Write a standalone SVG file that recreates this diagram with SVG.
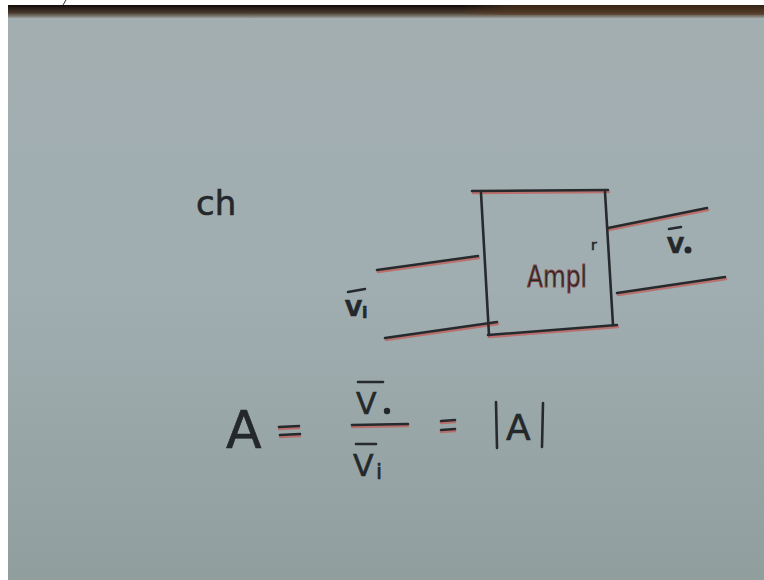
<svg xmlns="http://www.w3.org/2000/svg" width="764" height="580" viewBox="0 0 764 580">
<defs>
<linearGradient id="bg" x1="0" y1="0" x2="0" y2="1">
<stop offset="0" stop-color="#a3aeb0"/>
<stop offset="0.5" stop-color="#a0aeb1"/>
<stop offset="1" stop-color="#919e9e"/>
</linearGradient>
<linearGradient id="band" x1="0" y1="0" x2="0" y2="1">
<stop offset="0" stop-color="#100c0a"/>
<stop offset="0.6" stop-color="#4a3a2c"/>
<stop offset="1" stop-color="#979c96"/>
</linearGradient>
<linearGradient id="bandx" x1="0" y1="0" x2="1" y2="0">
<stop offset="0" stop-color="#000" stop-opacity="0.0"/>
<stop offset="0.6" stop-color="#5a3a20" stop-opacity="0.0"/>
<stop offset="0.66" stop-color="#5a3a20" stop-opacity="0.5"/>
<stop offset="1" stop-color="#5a3a20" stop-opacity="0.5"/>
</linearGradient>
</defs>
<style>
.ink{fill:none;stroke:#262a2c;stroke-width:2.6;stroke-linecap:round}
.red{fill:none;stroke:#c0605c;stroke-width:2.6;stroke-linecap:round;opacity:0.8}
.hw{font-family:"DejaVu Sans","Liberation Sans",sans-serif;fill:#24282a;stroke:#24282a;stroke-width:0.6}
.amp{stroke:#8a4440;stroke-width:0.8}
</style>
<rect x="0" y="0" width="764" height="580" fill="url(#bg)"/>
<rect x="8" y="5" width="756" height="13" fill="url(#band)"/>
<rect x="8" y="5" width="756" height="10" fill="url(#bandx)"/>
<rect x="0" y="0" width="764" height="5" fill="#ffffff"/>
<rect x="0" y="0" width="8" height="580" fill="#ffffff"/>
<path d="M63 5 L66 0" stroke="#333" stroke-width="1"/>

<g id="label-ch">
<text class="hw" x="196" y="215" font-size="34">ch</text>
</g>

<g id="connectors">
<g transform="translate(1,2)">
<path class="red" d="M377 270 L478 256"/>
<path class="red" d="M385 338 L497 322"/>
<path class="red" d="M608 228 L707 208"/>
<path class="red" d="M617 293 L725 277"/>
</g>
<path class="ink" d="M377 270 L478 256"/>
<path class="ink" d="M385 338 L497 322"/>
<path class="ink" d="M608 228 L707 208"/>
<path class="ink" d="M617 293 L725 277"/>
</g>

<g id="amplifier">
<g transform="translate(1,2)">
<path class="red" d="M472 191 L608 190"/>
<path class="red" d="M488 335 L617 325"/>
</g>
<path class="ink" d="M472 191 L608 190"/>
<path class="ink" d="M481 193 L489 335"/>
<path class="ink" d="M605 192 L613 325"/>
<path class="ink" d="M488 335 L617 325"/>
<text class="hw amp" x="527" y="287" font-size="30" textLength="60" lengthAdjust="spacingAndGlyphs">Ampl</text>
<text class="hw" x="591" y="250" font-size="14">r</text>
</g>

<g id="label-vo">
<line class="ink" x1="669" y1="229" x2="681" y2="227" stroke-width="2.4"/>
<text class="hw" x="667" y="253" font-size="22" font-weight="bold">V</text>
<circle cx="688" cy="250" r="3.5" fill="#24282a"/>
</g>

<g id="label-vi">
<line class="ink" x1="348" y1="292" x2="365" y2="289" stroke-width="2.4"/>
<text class="hw" x="345" y="316" font-size="22" font-weight="bold">V</text>
<text class="hw" x="362" y="318" font-size="16" font-weight="bold">i</text>
</g>

<g id="equation">
<text class="hw" x="226" y="448" font-size="52">A</text>
<g transform="translate(0,2)">
<path class="red" d="M279 427 L299 426 M280 435 L300 434"/>
</g>
<path class="ink" d="M279 427 L299 426 M280 435 L300 434"/>
<line class="ink" x1="358" y1="382" x2="383" y2="382"/>
<text class="hw" x="356" y="414" font-size="30">V</text>
<circle cx="387" cy="411" r="3.2" fill="#24282a"/>
<g transform="translate(0,2)"><path class="red" d="M352 425 L408 424"/></g>
<path class="ink" d="M352 425 L408 424"/>
<line class="ink" x1="356" y1="444" x2="376" y2="444"/>
<text class="hw" x="353" y="476" font-size="30">V</text>
<text class="hw" x="376" y="479" font-size="22">i</text>
<g transform="translate(0,2)"><path class="red" d="M441 421 L455 420 M441 430 L455 429"/></g>
<path class="ink" d="M441 421 L455 420 M441 430 L455 429"/>
<path class="ink" d="M496 402 L497 448 M543 403 L542 447"/>
<text class="hw" x="506" y="440" font-size="36">A</text>
</g>
</svg>
